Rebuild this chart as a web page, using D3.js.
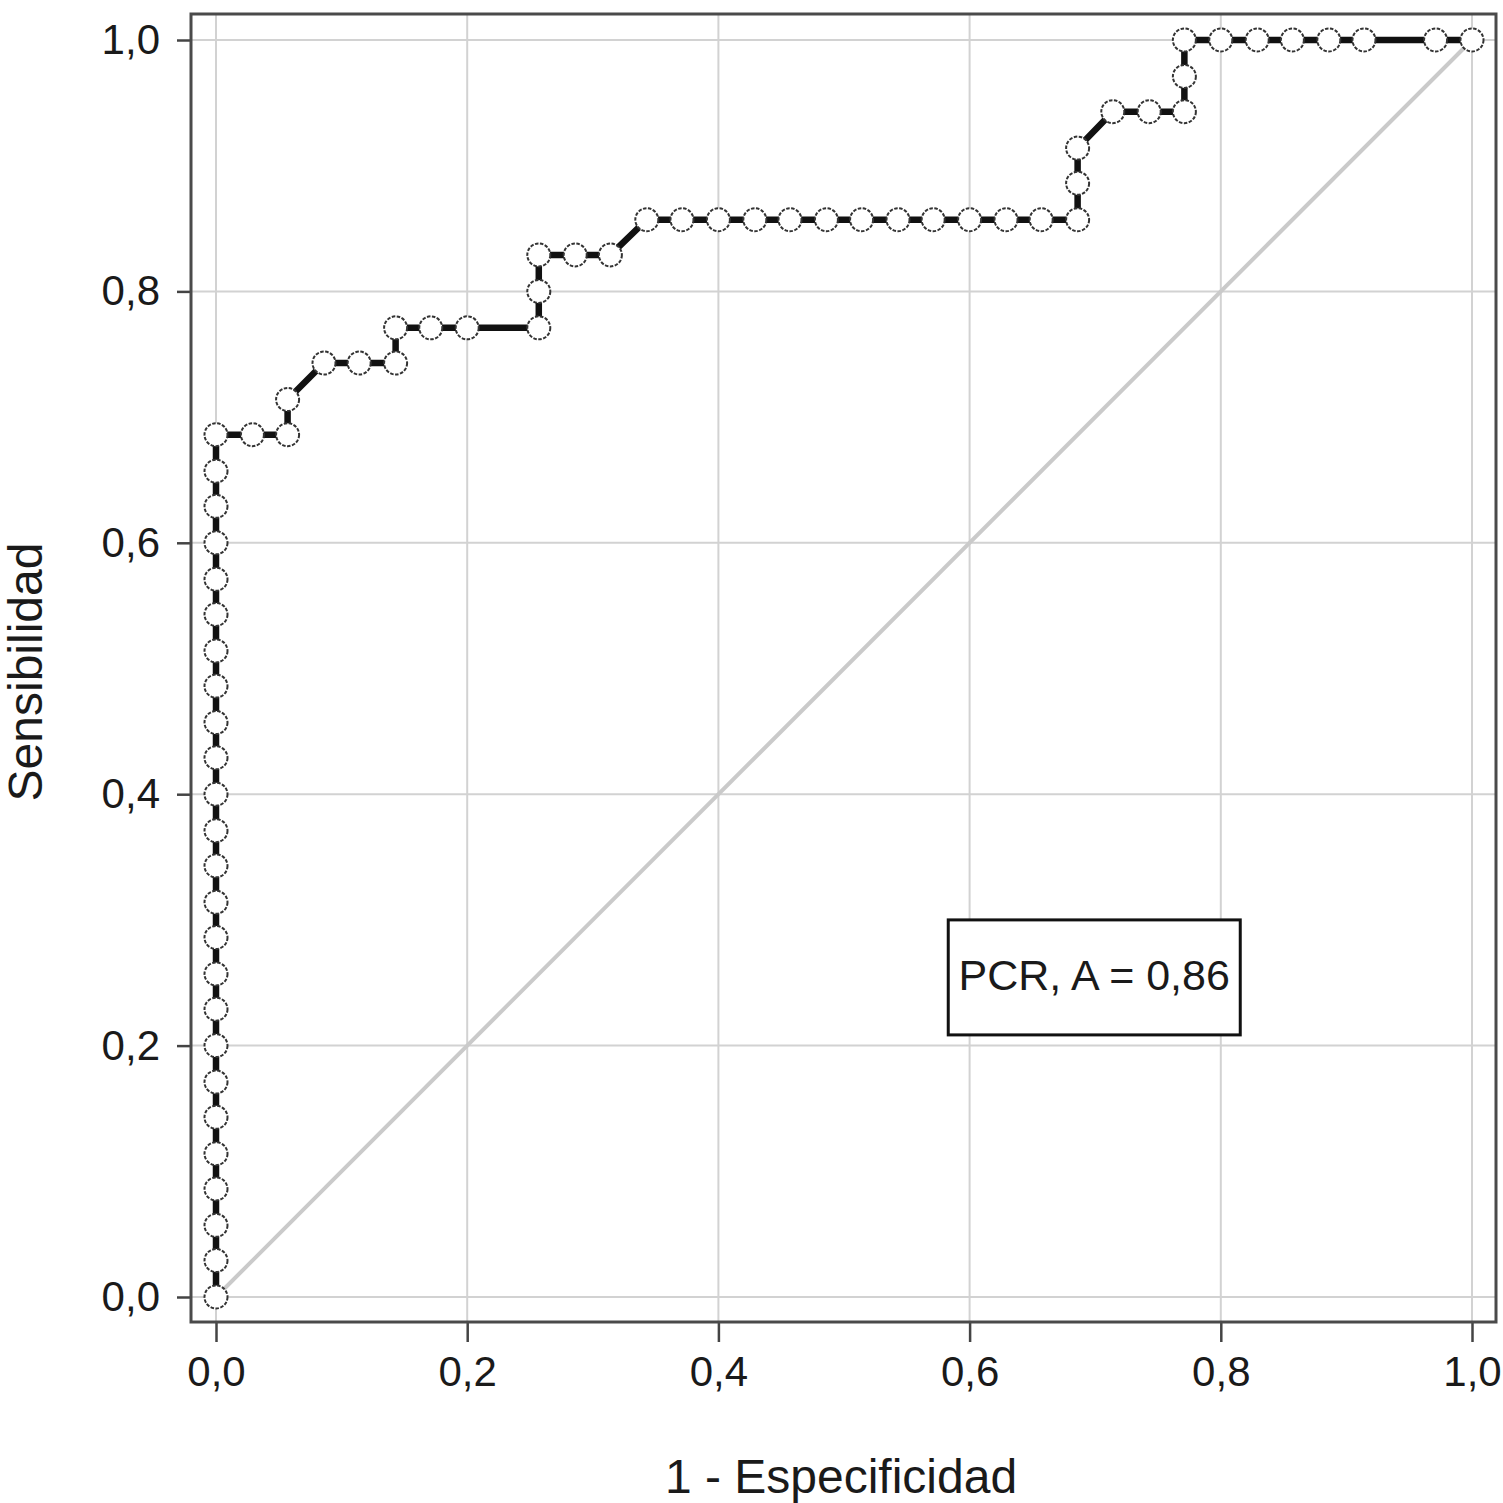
<!DOCTYPE html>
<html>
<head>
<meta charset="utf-8">
<script src="https://cdn.jsdelivr.net/npm/d3@7"></script>
<style>
  body { margin: 0; background: #fff; }
  text { font-family: "Liberation Sans", Arial, Helvetica, sans-serif; fill: #1a1a1a; }
</style>
</head>
<body>
<div id="chart"></div>
<script>
// ROC curve points (1 - specificity, sensitivity)
var fpr = [0, 0, 0, 0, 0, 0, 0, 0, 0, 0, 0, 0, 0, 0, 0, 0, 0, 0, 0, 0, 0, 0, 0, 0, 0,
           0.029, 0.057, 0.057, 0.086, 0.114, 0.143, 0.143, 0.171, 0.2, 0.257, 0.257, 0.257,
           0.286, 0.314, 0.343, 0.371, 0.4, 0.429, 0.457, 0.486, 0.514, 0.543, 0.571, 0.6,
           0.629, 0.657, 0.686, 0.686, 0.686, 0.714, 0.743, 0.771, 0.771, 0.771,
           0.8, 0.829, 0.857, 0.886, 0.914, 0.971, 1.0];
var tpr = [0, 0.029, 0.057, 0.086, 0.114, 0.143, 0.171, 0.2, 0.229, 0.257, 0.286, 0.314,
           0.343, 0.371, 0.4, 0.429, 0.457, 0.486, 0.514, 0.543, 0.571, 0.6, 0.629, 0.657, 0.686,
           0.686, 0.686, 0.714, 0.743, 0.743, 0.743, 0.771, 0.771, 0.771, 0.771, 0.8, 0.829,
           0.829, 0.829, 0.857, 0.857, 0.857, 0.857, 0.857, 0.857, 0.857, 0.857, 0.857, 0.857,
           0.857, 0.857, 0.857, 0.886, 0.914, 0.943, 0.943, 0.943, 0.971, 1.0,
           1.0, 1.0, 1.0, 1.0, 1.0, 1.0, 1.0];
var tickValues = [0, 0.2, 0.4, 0.6, 0.8, 1.0];
var legendLabel = "PCR, A = 0,86";
var xTitle = "1 - Especificidad";
var yTitle = "Sensibilidad";

var points = fpr.map(function(d, i) { return {x: d, y: tpr[i]}; });

var W = 1503, H = 1503;
var svg = d3.select("#chart").append("svg")
            .attr("width", W)
            .attr("height", H);

var xScale = d3.scaleLinear().domain([0, 1]).range([216, 1472]),
    yScale = d3.scaleLinear().domain([0, 1]).range([1297, 40]);

var locale = d3.formatLocale({decimal: ",", thousands: ".", grouping: [3], currency: ["", "€"]});
var fmt = locale.format(".1f");

// plot frame extents
var frameL = xScale(0) - 25, frameR = xScale(1) + 24,
    frameT = yScale(1) - 26, frameB = yScale(0) + 25;

// grid
svg.append("g").selectAll("line.vgrid")
  .data(tickValues).enter()
  .append("line")
  .attr("x1", function(d) { return xScale(d); })
  .attr("x2", function(d) { return xScale(d); })
  .attr("y1", frameT).attr("y2", frameB)
  .attr("stroke", "#d2d2d2").attr("stroke-width", 2);

svg.append("g").selectAll("line.hgrid")
  .data(tickValues).enter()
  .append("line")
  .attr("y1", function(d) { return yScale(d); })
  .attr("y2", function(d) { return yScale(d); })
  .attr("x1", frameL).attr("x2", frameR)
  .attr("stroke", "#d2d2d2").attr("stroke-width", 2);

// chance diagonal
svg.append("line")
  .attr("x1", xScale(0)).attr("y1", yScale(0))
  .attr("x2", xScale(1)).attr("y2", yScale(1))
  .attr("stroke", "#cacaca").attr("stroke-width", 4);

// axes
var xAxis = d3.axisBottom(xScale).tickValues(tickValues).tickFormat(fmt)
              .tickSize(20).tickPadding(14);
var yAxis = d3.axisLeft(yScale).tickValues(tickValues).tickFormat(fmt)
              .tickSize(14).tickPadding(17);

var gx = svg.append("g")
  .attr("transform", "translate(0," + frameB + ")")
  .call(xAxis);
var gy = svg.append("g")
  .attr("transform", "translate(" + frameL + ",0)")
  .call(yAxis);

[gx, gy].forEach(function(g) {
  g.select(".domain").remove();
  g.selectAll(".tick line").attr("stroke", "#444").attr("stroke-width", 2.5);
  g.selectAll(".tick text")
    .attr("fill", "#1a1a1a")
    .style("font-size", "42px")
    .style("font-family", "'Liberation Sans', Arial, Helvetica, sans-serif");
});

// frame
svg.append("rect")
  .attr("x", frameL).attr("y", frameT)
  .attr("width", frameR - frameL).attr("height", frameB - frameT)
  .attr("fill", "none")
  .attr("stroke", "#4a4a4a")
  .attr("stroke-width", 3);

// ROC line + markers
var rocLine = d3.line()
  .x(function(d) { return xScale(d.x); })
  .y(function(d) { return yScale(d.y); });

svg.append("path")
  .datum(points)
  .attr("d", rocLine)
  .attr("fill", "none")
  .attr("stroke", "#111")
  .attr("stroke-width", 6.5);

svg.append("g").selectAll("circle")
  .data(points).enter()
  .append("circle")
  .attr("cx", function(d) { return xScale(d.x); })
  .attr("cy", function(d) { return yScale(d.y); })
  .attr("r", 11.5)
  .attr("fill", "#fff")
  .attr("stroke", "#333")
  .attr("stroke-width", 2)
  .attr("stroke-dasharray", "3.5,1.5");

// legend box
var lx = xScale(0.583), ly = yScale(0.3);
svg.append("rect")
  .attr("x", lx).attr("y", ly)
  .attr("width", 292).attr("height", 115)
  .attr("fill", "#fff")
  .attr("stroke", "#111")
  .attr("stroke-width", 3);
svg.append("text")
  .attr("x", lx + 146).attr("y", ly + 70)
  .attr("text-anchor", "middle")
  .style("font-size", "43px")
  .text(legendLabel);

// axis titles
svg.append("text")
  .attr("x", 841).attr("y", 1493)
  .attr("text-anchor", "middle")
  .style("font-size", "48px")
  .text(xTitle);

svg.append("text")
  .attr("transform", "translate(42,672) rotate(-90)")
  .attr("text-anchor", "middle")
  .style("font-size", "48px")
  .text(yTitle);
</script>
</body>
</html>
